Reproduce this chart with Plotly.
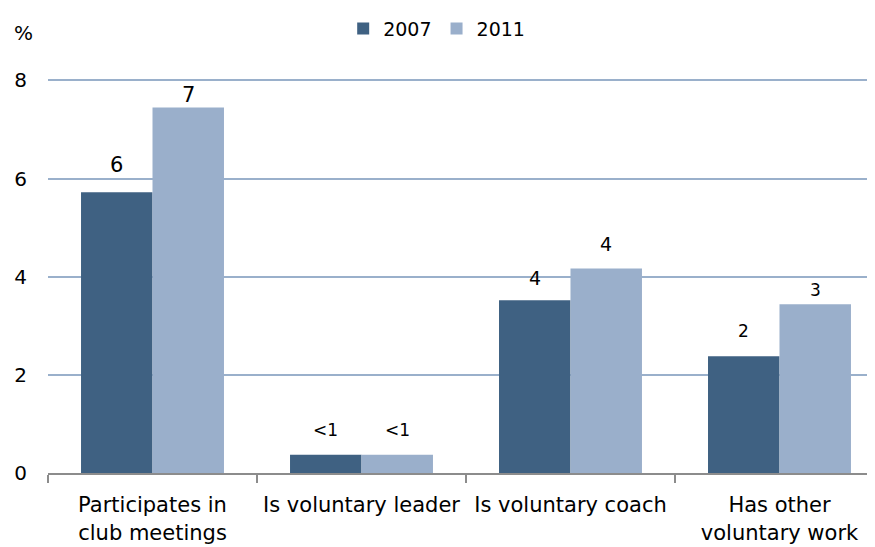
import plotly.graph_objects as go

categories = ["Participates in<br>club meetings", "Is voluntary leader", "Is voluntary coach", "Has other<br>voluntary work"]
values_2007 = [5.72, 0.37, 3.52, 2.38]
values_2011 = [7.45, 0.37, 4.17, 3.44]
labels_2007 = ["6", "<1", "4", "2"]
labels_2011 = ["7", "<1", "4", "3"]
series_names = ["2007", "2011"]
y_ticks = [0, 2, 4, 6, 8]
y_ticktext = ["0", "2", "4", "6", "8"]

# label styling (pixel offsets above bar tops, font sizes)
FONT = "DejaVu Sans"
label_sizes = [21, 17, 19, 17]
label_lift_2007 = [27, 25, 22, 25]
label_lift_2011 = [12, 25, 24, 14]
COLORS = ["#3f6182", "#9aafcb"]

fig = go.Figure()
for name, vals, col in zip(series_names, [values_2007, values_2011], COLORS):
    fig.add_trace(go.Bar(
        x=categories, y=vals, name=name,
        marker=dict(color=col, line=dict(width=0)),
    ))

half_bar = 35.75
for labels, vals, lifts, sign in [(labels_2007, values_2007, label_lift_2007, -1),
                                  (labels_2011, values_2011, label_lift_2011, 1)]:
    for cat, lab, v, lift, sz in zip(categories, labels, vals, lifts, label_sizes):
        fig.add_annotation(x=cat, y=v, text=lab, showarrow=False,
                           xshift=sign * half_bar, yshift=lift,
                           xanchor="center", yanchor="middle",
                           font=dict(family=FONT, size=sz, color="black"))

fig.update_layout(
    width=875, height=547,
    margin=dict(l=40, r=8, t=70, b=82, autoexpand=False),
    paper_bgcolor="white", plot_bgcolor="white",
    barmode="group", bargap=0.316, bargroupgap=0,
    font=dict(family=FONT, size=20, color="black"),
    legend=dict(orientation="h", x=0.47, xanchor="center", y=1.125, yanchor="middle",
                font=dict(family=FONT, size=19), traceorder="normal"),
    showlegend=True,
)
fig.update_xaxes(
    type="category", range=[-0.5, 3.457], automargin=False,
    showline=True, linecolor="#8c8c8c", linewidth=2,
    ticks="outside", tickson="boundaries", ticklen=8, tickcolor="#8c8c8c", tickwidth=2,
    ticklabelstandoff=12,
    showgrid=False, tickfont=dict(family=FONT, size=21, color="black"),
)
fig.update_yaxes(
    range=[0, 8.05], tickvals=y_ticks, ticktext=y_ticktext, automargin=False,
    showgrid=True, gridcolor="#9ab0cb", gridwidth=2,
    zeroline=False, showline=False, ticks="",
    ticklabelstandoff=20,
    tickfont=dict(family=FONT, size=20, color="black"),
)
fig.add_annotation(text="%", xref="paper", yref="paper", x=-0.030, y=1.113,
                   xanchor="center", yanchor="middle", showarrow=False,
                   font=dict(family=FONT, size=20, color="black"))

fig.write_html("out.html")
